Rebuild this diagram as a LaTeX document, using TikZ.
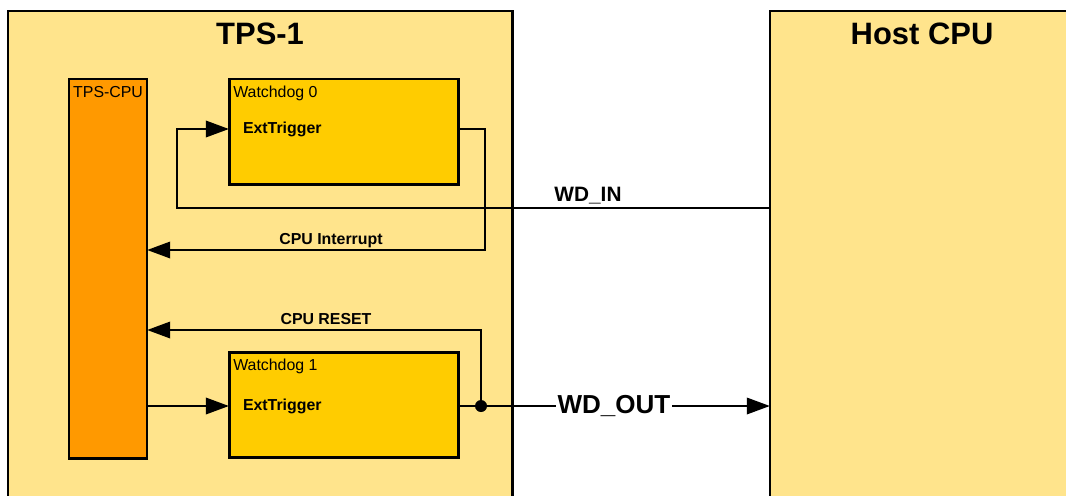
\documentclass[tikz,border=0pt]{standalone}
\usepackage{fontspec}
\setmainfont{Liberation Sans}
\usetikzlibrary{positioning}
\usetikzlibrary{arrows.meta}

\definecolor{chipbg}{RGB}{255,228,140}
\definecolor{wdfill}{RGB}{255,204,0}
\definecolor{cpufill}{RGB}{255,153,0}

\begin{document}
\begin{tikzpicture}[x=0.025cm, y=-0.025cm, line width=2.1pt, outer sep=0pt, inner sep=0pt,
        font=\fontsize{11.3}{13}\selectfont,
        chip/.style={draw, rectangle, fill=chipbg, anchor=north west, minimum height=12.5cm},
        wdbox/.style={draw, rectangle, fill=wdfill, anchor=north west, minimum width=5.725cm, minimum height=2.625cm},
        title/.style={font=\bfseries\fontsize{22}{26}\selectfont, anchor=north},
        sig/.style={font=\bfseries\fontsize{11.3}{13}\selectfont},
        arrow/.style={-{Triangle[length=16.5pt, width=11.5pt]}}]
    \useasboundingbox (0,0) rectangle (1066,495);
    \clip (0,0) rectangle (1066,495);

    \node[chip, minimum width=12.6cm] (tps) at (8,11) {};
    \node[chip, minimum width=7.6cm] (host) at (770,11) {};
    \node[title, below = 0.3cm of tps.north] (tpslbl) {TPS-1};
    \node[title, below = 0.3cm of host.north] (hostlbl) {Host CPU};

    \node[draw, rectangle, fill=cpufill, anchor=north west, minimum width=1.95cm, minimum height=9.475cm] (cpu) at (69,79) {};
    \node[anchor=north west] (cpulbl) at ([xshift=3pt, yshift=-5pt]cpu.north west) {TPS-CPU};

    \node[wdbox, right = 2.05cm of cpu.north east, anchor=north west] (wd0) {};
    \node[wdbox, below = 4.2cm of wd0] (wd1) {};
    \node[anchor=north west] (wd0lbl) at ([xshift=3pt, yshift=-5pt]wd0.north west) {Watchdog 0};
    \node[anchor=north west] (wd1lbl) at ([xshift=3pt, yshift=-5pt]wd1.north west) {Watchdog 1};
    \node[sig, anchor=west] (trig0) at (243,129) {ExtTrigger};
    \node[sig, anchor=west] (trig1) at (243,406) {ExtTrigger};

    \coordinate (inbend) at (177,208);
    \coordinate (irqbend) at (485,250);
    \coordinate (rstbend) at (481,330);
    \node[circle, fill, minimum size=0.3cm] (dot) at (481,406) {};

    \draw[arrow] (host.west |- inbend) -- (inbend) |- (wd0.west |- trig0);
    \node[sig, font=\bfseries\fontsize{14.8}{17}\selectfont] (wdin) at (588,196) {WD\_IN};

    \draw[arrow] (wd0.east |- trig0) -| (irqbend) -- (cpu.east |- irqbend);
    \node[sig] (irqlbl) at (331,241) {CPU Interrupt};

    \draw[arrow] (dot.center) |- (cpu.east |- rstbend);
    \node[sig] (rstlbl) at (326,319) {CPU RESET};

    \draw[arrow] (cpu.east |- trig1) -- (wd1.west |- trig1);
    \draw (wd1.east |- trig1) -- (dot.center);
    \draw[arrow] (dot.center) -- node[pos=0.46, fill=white, inner xsep=1pt, font=\bfseries\fontsize{18.5}{21}\selectfont] (wdout) {WD\_OUT} (host.west |- dot);
\end{tikzpicture}
\end{document}
